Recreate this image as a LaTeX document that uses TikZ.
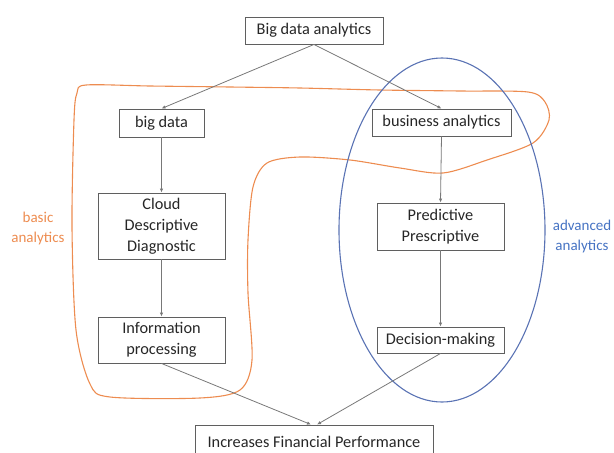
\documentclass[tikz,border=0pt]{standalone}
\usepackage{fontspec}
\setmainfont{Carlito}
\usetikzlibrary{arrows.meta}
\definecolor{borange}{RGB}{237,140,80}
\definecolor{bblue}{RGB}{90,115,180}
\definecolor{lblue}{RGB}{70,115,195}
\definecolor{lgray}{RGB}{120,120,120}
\definecolor{bgray}{RGB}{95,95,95}
\begin{document}
\begin{tikzpicture}[x=1pt,y=-1pt,
  box/.style={draw=bgray, line width=0.9pt, inner sep=0pt, align=center,
    font=\fontsize{16.3}{21}\selectfont, text=black!85},
  conn/.style={draw=lgray, line width=0.8pt, -{Latex[length=4pt,width=3.5pt]}},
  lbl/.style={align=center, font=\fontsize{15}{20}\selectfont}]
\useasboundingbox (0,0) rectangle (614,453);
% orange blob
\draw[borange, line width=1.1pt] plot[smooth cycle, tension=0.5] coordinates {
 (86,85) (150,86) (230,87) (300,88) (380,90) (460,91) (528,92) (545,102)
 (549,120) (533,143) (487,160) (443,173) (400,168) (350,160) (300,157)
 (267,163) (253,187) (248,240) (248,293) (252,360) (240,390) (200,398)
 (110,397) (90,384) (76,330) (72,227) (74,120) (77,93)};
% blue ellipse
\draw[bblue, line width=1.1pt] (442,230) ellipse [x radius=103, y radius=172];
% nodes
\node[box, minimum width=138, minimum height=27] (top) at (314,30.5) {Big data analytics};
\node[box, minimum width=85, minimum height=28] (bd) at (161.5,123) {big data};
\node[box, minimum width=127, minimum height=66] (cloud) at (161.5,226) {Cloud\\Descriptive\\Diagnostic};
\node[box, minimum width=127, minimum height=46] (info) at (161.5,340) {Information\\processing};
\node[box, minimum width=139, minimum height=27] (bus) at (441.5,122.5) {business analytics};
\node[box, minimum width=127, minimum height=47] (pred) at (440.5,226.5) {Predictive\\Prescriptive};
\node[box, minimum width=127, minimum height=26] (dec) at (440.5,340) {Decision-making};
\node[box, minimum width=238, minimum height=34] (fin) at (314,442) {Increases Financial Performance};
% labels
\node[lbl, text=borange] (lb) at (38,228) {basic\\analytics};
\node[lbl, text=lblue] (la) at (582,236) {advanced\\analytics};
% connectors
\draw[conn] (top.south) -- (bd.north);
\draw[conn] (top.south) -- (bus.north);
\draw[conn] (bd.south) -- (cloud.north);
\draw[conn] (cloud.south) -- (info.north);
\draw[conn] (bus.south) -- (pred.north);
\draw[conn] (pred.south) -- (dec.north);
\draw[conn] (info.south) -- ([xshift=-3pt]fin.north);
\draw[conn] (dec.south) -- ([xshift=3pt]fin.north);
\end{tikzpicture}
\end{document}
